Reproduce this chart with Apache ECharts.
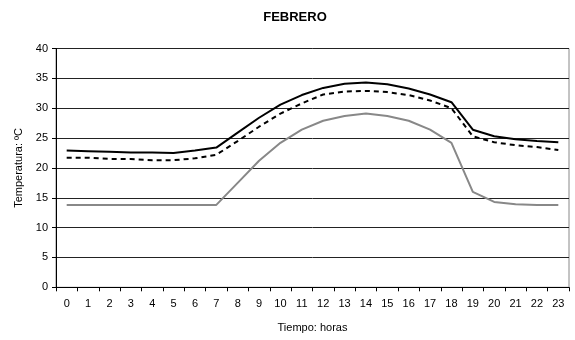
<!DOCTYPE html>
<html><head><meta charset="utf-8">
<script src="https://cdn.jsdelivr.net/npm/echarts@6/dist/echarts.min.js"></script>
<style>html,body{margin:0;padding:0;background:#fff}#c{width:575px;height:340px}</style>
</head><body><div id="c"></div>
<script>
const hours = ['0','1','2','3','4','5','6','7','8','9','10','11','12','13','14','15','16','17','18','19','20','21','22','23'];
const serieMax = [22.9,22.8,22.7,22.6,22.6,22.5,22.9,23.4,25.9,28.4,30.6,32.2,33.4,34.1,34.3,34.0,33.3,32.3,31.0,26.4,25.3,24.8,24.5,24.3];
const serieMed = [21.7,21.7,21.5,21.5,21.3,21.3,21.6,22.2,24.5,26.9,29.1,30.8,32.3,32.8,32.9,32.7,32.2,31.3,30.0,25.3,24.3,23.8,23.5,23.0];
const serieMin = [13.8,13.8,13.8,13.8,13.8,13.8,13.8,13.8,17.5,21.2,24.2,26.4,27.9,28.7,29.1,28.7,27.9,26.4,24.2,16.0,14.3,13.9,13.8,13.8];
const yTicks = [0,5,10,15,20,25,30,35,40];

const chart = echarts.init(document.getElementById('c'), null, {renderer:'canvas'});
const font = 'Liberation Sans, Arial, sans-serif';
chart.setOption({
  animation:false,
  title:{text:'FEBRERO',left:290,top:6,textAlign:'center',textStyle:{fontFamily:font,fontSize:13,fontWeight:'bold',color:'#000'}},
  grid:{left:56,right:6,top:48.5,bottom:52.7,show:true,borderColor:'#888',borderWidth:1},
  xAxis:{type:'category',data:hours,boundaryGap:true,
    name:'Tiempo: horas',nameLocation:'middle',nameGap:35,nameTextStyle:{fontFamily:font,fontSize:11,color:'#000'},
    axisLine:{lineStyle:{color:'#000',width:1}},
    axisTick:{show:true,inside:false,length:4,alignWithLabel:false,lineStyle:{color:'#000'}},
    axisLabel:{fontFamily:font,fontSize:11,color:'#000',margin:11,interval:0},
    splitLine:{show:false}},
  yAxis:{type:'value',min:yTicks[0],max:yTicks[yTicks.length-1],interval:5,
    name:'Temperatura: ºC',nameLocation:'middle',nameGap:30,nameRotate:90,nameTextStyle:{fontFamily:font,fontSize:11,color:'#000'},
    axisLine:{show:true,lineStyle:{color:'#000',width:1}},
    axisTick:{show:true,inside:false,length:4,lineStyle:{color:'#000'}},
    axisLabel:{fontFamily:font,fontSize:11,color:'#000',margin:8},
    splitLine:{show:true,lineStyle:{color:'#222',width:1}}},
  series:[
    {type:'line',data:serieMax,symbol:'none',lineStyle:{color:'#000',width:2}},
    {type:'line',data:serieMed,symbol:'none',lineStyle:{color:'#000',width:2,type:[5,4]}},
    {type:'line',data:serieMin,symbol:'none',lineStyle:{color:'#888',width:2}}
  ]
});
</script></body></html>
